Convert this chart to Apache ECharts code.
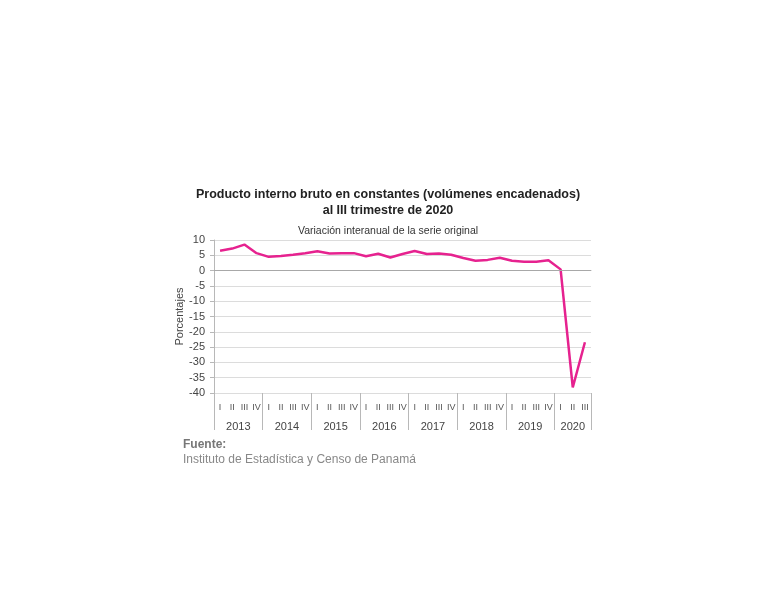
<!DOCTYPE html>
<html>
<head>
<meta charset="utf-8">
<script src="https://cdn.jsdelivr.net/npm/echarts@6/dist/echarts.min.js"></script>
<style>
html,body{margin:0;padding:0;background:#fff;}
#chart{width:768px;height:597px;}
</style>
</head>
<body>
<div id="chart"></div>
<script>
// ---- data ----
const years = ['2013','2014','2015','2016','2017','2018','2019','2020'];
const quartersPerYear = [4,4,4,4,4,4,4,3];
const quarterLabels = ['I','II','III','IV'];
const variation = [
  6.5, 7.2, 8.5, 5.7,
  4.5, 4.8, 5.2, 5.7,
  6.3, 5.6, 5.7, 5.7,
  4.7, 5.5, 4.3, 5.4,
  6.4, 5.4, 5.6, 5.2,
  4.1, 3.2, 3.5, 4.2,
  3.2, 2.9, 2.9, 3.4,
  0.4, -38.2, -23.4
];
const yTicks = {min: -40, max: 10, step: 5};

// ---- derived axis structures ----
const categories = [];
const boundaries = [0];
const centers = [];
let pos = 0;
years.forEach((y, i) => {
  for (let q = 0; q < quartersPerYear[i]; q++) categories.push(y + '-' + quarterLabels[q]);
  centers.push(pos + quartersPerYear[i] / 2);
  pos += quartersPerYear[i];
  boundaries.push(pos);
});
const total = pos;

const chart = echarts.init(document.getElementById('chart'));
const axisGray = '#b8b8b8';
const font = 'Liberation Sans, Arial, sans-serif';

chart.setOption({
  animation: false,
  backgroundColor: '#fff',
  title: [
    {
      text: 'Producto interno bruto en constantes (volúmenes encadenados)\nal III trimestre de 2020',
      left: 388, top: 187, textAlign: 'center', padding: 0,
      textStyle: {fontFamily: font, fontSize: 12.5, fontWeight: 'bold', color: '#222', lineHeight: 16}
    },
    {
      text: 'Variación interanual de la serie original',
      left: 388, top: 226, textAlign: 'center', padding: 0,
      textStyle: {fontFamily: font, fontSize: 10.5, fontWeight: 'normal', color: '#333'}
    },
    {
      text: 'Fuente:',
      left: 183, top: 439, padding: 0,
      textStyle: {fontFamily: font, fontSize: 12, fontWeight: 'bold', color: '#777'}
    },
    {
      text: 'Instituto de Estadística y Censo de Panamá',
      left: 183, top: 454, padding: 0,
      textStyle: {fontFamily: font, fontSize: 12, fontWeight: 'normal', color: '#888'}
    }
  ],
  grid: {left: 214, right: 177, top: 240, bottom: 204, containLabel: false},
  xAxis: [
    {
      type: 'category',
      data: categories,
      boundaryGap: true,
      axisLine: {show: true, lineStyle: {color: axisGray, width: 1}},
      axisTick: {show: false},
      axisLabel: {
        interval: 0, margin: 10,
        fontFamily: font, fontSize: 9, color: '#555',
        formatter: v => v.split('-')[1]
      },
      splitLine: {show: false}
    },
    {
      type: 'value',
      min: 0, max: total,
      position: 'bottom',
      axisLine: {show: false},
      axisTick: {show: true, customValues: boundaries, length: 37, lineStyle: {color: axisGray, width: 1}},
      axisLabel: {
        show: true, customValues: centers, margin: 28,
        fontFamily: font, fontSize: 11, color: '#444',
        formatter: v => { const i = centers.indexOf(v); return i >= 0 ? years[i] : ''; }
      },
      splitLine: {show: false}
    }
  ],
  yAxis: {
    type: 'value',
    min: yTicks.min, max: yTicks.max, interval: yTicks.step,
    name: 'Porcentajes',
    nameLocation: 'middle', nameRotate: 90, nameGap: 27,
    nameTextStyle: {fontFamily: font, fontSize: 11, color: '#444'},
    axisLine: {show: true, lineStyle: {color: axisGray, width: 1}},
    axisTick: {show: true, length: 4, lineStyle: {color: axisGray}},
    axisLabel: {margin: 9, fontFamily: font, fontSize: 11, color: '#444'},
    splitLine: {show: true, lineStyle: {color: '#dcdcdc', width: 1}}
  },
  series: [{
    type: 'line',
    data: variation,
    xAxisIndex: 0,
    symbol: 'none',
    lineStyle: {color: '#e6228f', width: 2.5},
    itemStyle: {color: '#e6228f'},
    markLine: {
      silent: true, symbol: 'none', label: {show: false},
      lineStyle: {color: '#a8a8a8', width: 1, type: 'solid'},
      data: [{yAxis: 0}]
    },
    z: 3
  }]
});
</script>
</body>
</html>
